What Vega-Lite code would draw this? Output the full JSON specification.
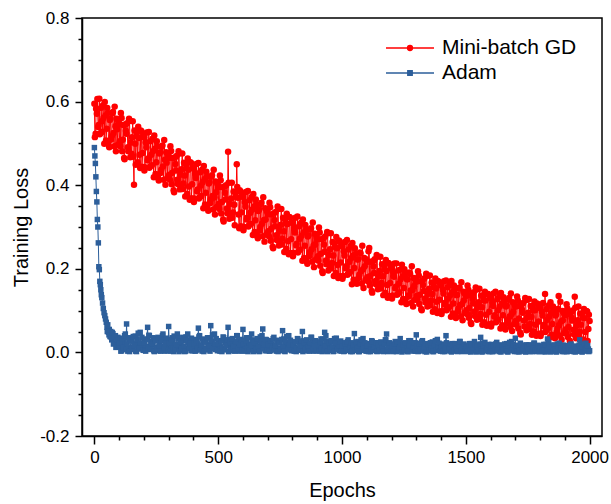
{
  "$schema": "https://vega.github.io/schema/vega-lite/v6.json",
  "autosize": "none",
  "padding": {"left": 82, "top": 18, "right": 9, "bottom": 68},
  "width": 520,
  "height": 418,
  "background": "white",
  "config": {
    "font": "Liberation Sans",
    "view": {"stroke": "black", "strokeWidth": 1.5},
    "axis": {"grid": false, "domainColor": "black", "domainWidth": 1.5, "tickColor": "black", "tickWidth": 1.5, "labelColor": "black", "titleColor": "black", "labelFont": "Liberation Sans", "titleFont": "Liberation Sans", "titleFontWeight": "normal", "labelFontSize": 17, "titleFontSize": 20}
  },
  "datasets": {
    "gd": [
      {"x":0,"y":0.595},{"x":5,"y":0.523},{"x":10,"y":0.571},{"x":15,"y":0.539},{"x":20,"y":0.607},{"x":25,"y":0.525},{"x":30,"y":0.553},{"x":35,"y":0.591},{"x":40,"y":0.499},{"x":45,"y":0.567},
      {"x":50,"y":0.535},{"x":55,"y":0.573},{"x":60,"y":0.491},{"x":65,"y":0.559},{"x":70,"y":0.517},{"x":75,"y":0.575},{"x":80,"y":0.493},{"x":85,"y":0.541},{"x":90,"y":0.559},{"x":95,"y":0.497},
      {"x":100,"y":0.545},{"x":105,"y":0.493},{"x":110,"y":0.561},{"x":115,"y":0.509},{"x":120,"y":0.465},{"x":125,"y":0.545},{"x":130,"y":0.523},{"x":135,"y":0.491},{"x":140,"y":0.559},{"x":145,"y":0.467},
      {"x":150,"y":0.475},{"x":155,"y":0.553},{"x":160,"y":0.401},{"x":165,"y":0.499},{"x":170,"y":0.527},{"x":175,"y":0.455},{"x":180,"y":0.513},{"x":185,"y":0.441},{"x":190,"y":0.529},{"x":195,"y":0.477},
      {"x":200,"y":0.515},{"x":205,"y":0.443},{"x":210,"y":0.491},{"x":215,"y":0.459},{"x":220,"y":0.527},{"x":225,"y":0.445},{"x":230,"y":0.473},{"x":235,"y":0.511},{"x":240,"y":0.419},{"x":245,"y":0.487},
      {"x":250,"y":0.455},{"x":255,"y":0.493},{"x":260,"y":0.411},{"x":265,"y":0.479},{"x":270,"y":0.437},{"x":275,"y":0.495},{"x":280,"y":0.413},{"x":285,"y":0.461},{"x":290,"y":0.479},{"x":295,"y":0.417},
      {"x":300,"y":0.465},{"x":305,"y":0.413},{"x":310,"y":0.482},{"x":315,"y":0.430},{"x":320,"y":0.388},{"x":325,"y":0.466},{"x":330,"y":0.435},{"x":335,"y":0.413},{"x":340,"y":0.481},{"x":345,"y":0.390},
      {"x":350,"y":0.398},{"x":355,"y":0.476},{"x":360,"y":0.404},{"x":365,"y":0.423},{"x":370,"y":0.451},{"x":375,"y":0.379},{"x":380,"y":0.437},{"x":385,"y":0.365},{"x":390,"y":0.454},{"x":395,"y":0.402},
      {"x":400,"y":0.440},{"x":405,"y":0.368},{"x":410,"y":0.417},{"x":415,"y":0.385},{"x":420,"y":0.453},{"x":425,"y":0.371},{"x":430,"y":0.399},{"x":435,"y":0.437},{"x":440,"y":0.345},{"x":445,"y":0.414},
      {"x":450,"y":0.382},{"x":455,"y":0.420},{"x":460,"y":0.339},{"x":465,"y":0.407},{"x":470,"y":0.366},{"x":475,"y":0.424},{"x":480,"y":0.342},{"x":485,"y":0.371},{"x":490,"y":0.409},{"x":495,"y":0.348},
      {"x":500,"y":0.395},{"x":505,"y":0.343},{"x":510,"y":0.412},{"x":515,"y":0.360},{"x":520,"y":0.318},{"x":525,"y":0.397},{"x":530,"y":0.366},{"x":535,"y":0.344},{"x":540,"y":0.480},{"x":545,"y":0.320},
      {"x":550,"y":0.328},{"x":555,"y":0.406},{"x":560,"y":0.335},{"x":565,"y":0.353},{"x":570,"y":0.383},{"x":575,"y":0.450},{"x":580,"y":0.370},{"x":585,"y":0.297},{"x":590,"y":0.385},{"x":595,"y":0.335},
      {"x":600,"y":0.372},{"x":605,"y":0.300},{"x":610,"y":0.349},{"x":615,"y":0.318},{"x":620,"y":0.386},{"x":625,"y":0.305},{"x":630,"y":0.334},{"x":635,"y":0.372},{"x":640,"y":0.281},{"x":645,"y":0.349},
      {"x":650,"y":0.316},{"x":655,"y":0.354},{"x":660,"y":0.273},{"x":665,"y":0.341},{"x":670,"y":0.300},{"x":675,"y":0.358},{"x":680,"y":0.278},{"x":685,"y":0.317},{"x":690,"y":0.345},{"x":695,"y":0.282},
      {"x":700,"y":0.330},{"x":705,"y":0.278},{"x":710,"y":0.347},{"x":715,"y":0.296},{"x":720,"y":0.253},{"x":725,"y":0.333},{"x":730,"y":0.302},{"x":735,"y":0.280},{"x":740,"y":0.349},{"x":745,"y":0.256},
      {"x":750,"y":0.265},{"x":755,"y":0.343},{"x":760,"y":0.272},{"x":765,"y":0.290},{"x":770,"y":0.319},{"x":775,"y":0.248},{"x":780,"y":0.307},{"x":785,"y":0.235},{"x":790,"y":0.323},{"x":795,"y":0.271},
      {"x":800,"y":0.310},{"x":805,"y":0.238},{"x":810,"y":0.287},{"x":815,"y":0.256},{"x":820,"y":0.325},{"x":825,"y":0.243},{"x":830,"y":0.272},{"x":835,"y":0.310},{"x":840,"y":0.219},{"x":845,"y":0.287},
      {"x":850,"y":0.255},{"x":855,"y":0.293},{"x":860,"y":0.212},{"x":865,"y":0.280},{"x":870,"y":0.239},{"x":875,"y":0.297},{"x":880,"y":0.217},{"x":885,"y":0.256},{"x":890,"y":0.284},{"x":895,"y":0.222},
      {"x":900,"y":0.270},{"x":905,"y":0.219},{"x":910,"y":0.287},{"x":915,"y":0.236},{"x":920,"y":0.194},{"x":925,"y":0.273},{"x":930,"y":0.241},{"x":935,"y":0.220},{"x":940,"y":0.288},{"x":945,"y":0.196},
      {"x":950,"y":0.207},{"x":955,"y":0.285},{"x":960,"y":0.214},{"x":965,"y":0.232},{"x":970,"y":0.261},{"x":975,"y":0.190},{"x":980,"y":0.249},{"x":985,"y":0.178},{"x":990,"y":0.266},{"x":995,"y":0.215},
      {"x":1000,"y":0.254},{"x":1005,"y":0.183},{"x":1010,"y":0.232},{"x":1015,"y":0.201},{"x":1020,"y":0.269},{"x":1025,"y":0.188},{"x":1030,"y":0.217},{"x":1035,"y":0.255},{"x":1040,"y":0.163},{"x":1045,"y":0.232},
      {"x":1050,"y":0.202},{"x":1055,"y":0.236},{"x":1060,"y":0.164},{"x":1065,"y":0.223},{"x":1070,"y":0.186},{"x":1075,"y":0.237},{"x":1080,"y":0.165},{"x":1085,"y":0.199},{"x":1090,"y":0.226},{"x":1095,"y":0.173},
      {"x":1100,"y":0.216},{"x":1105,"y":0.170},{"x":1110,"y":0.250},{"x":1115,"y":0.183},{"x":1120,"y":0.147},{"x":1125,"y":0.218},{"x":1130,"y":0.190},{"x":1135,"y":0.171},{"x":1140,"y":0.233},{"x":1145,"y":0.151},
      {"x":1150,"y":0.159},{"x":1155,"y":0.229},{"x":1160,"y":0.166},{"x":1165,"y":0.182},{"x":1170,"y":0.208},{"x":1175,"y":0.143},{"x":1180,"y":0.195},{"x":1185,"y":0.131},{"x":1190,"y":0.212},{"x":1195,"y":0.166},
      {"x":1200,"y":0.201},{"x":1205,"y":0.136},{"x":1210,"y":0.181},{"x":1215,"y":0.153},{"x":1220,"y":0.213},{"x":1225,"y":0.140},{"x":1230,"y":0.165},{"x":1235,"y":0.198},{"x":1240,"y":0.120},{"x":1245,"y":0.182},
      {"x":1250,"y":0.154},{"x":1255,"y":0.188},{"x":1260,"y":0.116},{"x":1265,"y":0.175},{"x":1270,"y":0.137},{"x":1275,"y":0.188},{"x":1280,"y":0.118},{"x":1285,"y":0.150},{"x":1290,"y":0.178},{"x":1295,"y":0.126},
      {"x":1300,"y":0.169},{"x":1305,"y":0.126},{"x":1310,"y":0.184},{"x":1315,"y":0.138},{"x":1320,"y":0.104},{"x":1325,"y":0.170},{"x":1330,"y":0.147},{"x":1335,"y":0.129},{"x":1340,"y":0.188},{"x":1345,"y":0.110},
      {"x":1350,"y":0.117},{"x":1355,"y":0.184},{"x":1360,"y":0.124},{"x":1365,"y":0.140},{"x":1370,"y":0.164},{"x":1375,"y":0.103},{"x":1380,"y":0.153},{"x":1385,"y":0.094},{"x":1390,"y":0.169},{"x":1395,"y":0.126},
      {"x":1400,"y":0.160},{"x":1405,"y":0.099},{"x":1410,"y":0.141},{"x":1415,"y":0.114},{"x":1420,"y":0.172},{"x":1425,"y":0.104},{"x":1430,"y":0.129},{"x":1435,"y":0.161},{"x":1440,"y":0.085},{"x":1445,"y":0.144},
      {"x":1450,"y":0.117},{"x":1455,"y":0.150},{"x":1460,"y":0.082},{"x":1465,"y":0.138},{"x":1470,"y":0.105},{"x":1475,"y":0.155},{"x":1480,"y":0.086},{"x":1485,"y":0.116},{"x":1490,"y":0.145},{"x":1495,"y":0.094},
      {"x":1500,"y":0.135},{"x":1505,"y":0.092},{"x":1510,"y":0.150},{"x":1515,"y":0.106},{"x":1520,"y":0.071},{"x":1525,"y":0.138},{"x":1530,"y":0.117},{"x":1535,"y":0.098},{"x":1540,"y":0.155},{"x":1545,"y":0.078},
      {"x":1550,"y":0.085},{"x":1555,"y":0.152},{"x":1560,"y":0.092},{"x":1565,"y":0.108},{"x":1570,"y":0.134},{"x":1575,"y":0.072},{"x":1580,"y":0.124},{"x":1585,"y":0.064},{"x":1590,"y":0.140},{"x":1595,"y":0.097},
      {"x":1600,"y":0.130},{"x":1605,"y":0.069},{"x":1610,"y":0.111},{"x":1615,"y":0.085},{"x":1620,"y":0.145},{"x":1625,"y":0.075},{"x":1630,"y":0.101},{"x":1635,"y":0.134},{"x":1640,"y":0.057},{"x":1645,"y":0.116},
      {"x":1650,"y":0.089},{"x":1655,"y":0.123},{"x":1660,"y":0.055},{"x":1665,"y":0.112},{"x":1670,"y":0.079},{"x":1675,"y":0.130},{"x":1680,"y":0.061},{"x":1685,"y":0.092},{"x":1690,"y":0.120},{"x":1695,"y":0.068},
      {"x":1700,"y":0.109},{"x":1705,"y":0.066},{"x":1710,"y":0.125},{"x":1715,"y":0.081},{"x":1720,"y":0.047},{"x":1725,"y":0.115},{"x":1730,"y":0.095},{"x":1735,"y":0.076},{"x":1740,"y":0.130},{"x":1745,"y":0.053},
      {"x":1750,"y":0.061},{"x":1755,"y":0.128},{"x":1760,"y":0.068},{"x":1765,"y":0.085},{"x":1770,"y":0.110},{"x":1775,"y":0.050},{"x":1780,"y":0.101},{"x":1785,"y":0.040},{"x":1790,"y":0.116},{"x":1795,"y":0.074},
      {"x":1800,"y":0.106},{"x":1805,"y":0.046},{"x":1810,"y":0.088},{"x":1815,"y":0.062},{"x":1820,"y":0.140},{"x":1825,"y":0.053},{"x":1830,"y":0.078},{"x":1835,"y":0.112},{"x":1840,"y":0.036},{"x":1845,"y":0.094},
      {"x":1850,"y":0.068},{"x":1855,"y":0.101},{"x":1860,"y":0.034},{"x":1865,"y":0.091},{"x":1870,"y":0.057},{"x":1875,"y":0.135},{"x":1880,"y":0.040},{"x":1885,"y":0.074},{"x":1890,"y":0.099},{"x":1895,"y":0.046},
      {"x":1900,"y":0.089},{"x":1905,"y":0.046},{"x":1910,"y":0.105},{"x":1915,"y":0.061},{"x":1920,"y":0.028},{"x":1925,"y":0.096},{"x":1930,"y":0.076},{"x":1935,"y":0.054},{"x":1940,"y":0.133},{"x":1945,"y":0.034},
      {"x":1950,"y":0.043},{"x":1955,"y":0.110},{"x":1960,"y":0.050},{"x":1965,"y":0.066},{"x":1970,"y":0.092},{"x":1975,"y":0.031},{"x":1980,"y":0.082},{"x":1985,"y":0.022},{"x":1990,"y":0.098},{"x":1995,"y":0.056},{"x":2000,"y":0.075},
      {"x":2,"y":0.515},{"x":7,"y":0.583},{"x":12,"y":0.606},{"x":17,"y":0.544},{"x":22,"y":0.522},{"x":27,"y":0.585},{"x":32,"y":0.528},{"x":37,"y":0.561},{"x":42,"y":0.599},{"x":47,"y":0.507},
      {"x":52,"y":0.585},{"x":57,"y":0.498},{"x":62,"y":0.556},{"x":67,"y":0.509},{"x":72,"y":0.572},{"x":77,"y":0.525},{"x":82,"y":0.588},{"x":87,"y":0.481},{"x":92,"y":0.534},{"x":97,"y":0.552},
      {"x":102,"y":0.505},{"x":107,"y":0.573},{"x":112,"y":0.481},{"x":117,"y":0.544},{"x":122,"y":0.462},{"x":127,"y":0.530},{"x":132,"y":0.548},{"x":137,"y":0.481},{"x":142,"y":0.554},{"x":147,"y":0.502},
      {"x":152,"y":0.515},{"x":157,"y":0.468},{"x":162,"y":0.531},{"x":167,"y":0.449},{"x":172,"y":0.517},{"x":177,"y":0.540},{"x":182,"y":0.473},{"x":187,"y":0.531},{"x":192,"y":0.444},{"x":197,"y":0.517},
      {"x":202,"y":0.435},{"x":207,"y":0.503},{"x":212,"y":0.526},{"x":217,"y":0.464},{"x":222,"y":0.442},{"x":227,"y":0.505},{"x":232,"y":0.448},{"x":237,"y":0.481},{"x":242,"y":0.519},{"x":247,"y":0.427},
      {"x":252,"y":0.505},{"x":257,"y":0.418},{"x":262,"y":0.476},{"x":267,"y":0.429},{"x":272,"y":0.492},{"x":277,"y":0.445},{"x":282,"y":0.508},{"x":287,"y":0.401},{"x":292,"y":0.454},{"x":297,"y":0.472},
      {"x":302,"y":0.425},{"x":307,"y":0.493},{"x":312,"y":0.402},{"x":317,"y":0.465},{"x":322,"y":0.383},{"x":327,"y":0.451},{"x":332,"y":0.470},{"x":337,"y":0.403},{"x":342,"y":0.476},{"x":347,"y":0.425},
      {"x":352,"y":0.438},{"x":357,"y":0.391},{"x":362,"y":0.454},{"x":367,"y":0.373},{"x":372,"y":0.441},{"x":377,"y":0.464},{"x":382,"y":0.397},{"x":387,"y":0.455},{"x":392,"y":0.369},{"x":397,"y":0.442},
      {"x":402,"y":0.360},{"x":407,"y":0.428},{"x":412,"y":0.451},{"x":417,"y":0.390},{"x":422,"y":0.368},{"x":427,"y":0.431},{"x":432,"y":0.374},{"x":437,"y":0.407},{"x":442,"y":0.446},{"x":447,"y":0.354},
      {"x":452,"y":0.432},{"x":457,"y":0.345},{"x":462,"y":0.404},{"x":467,"y":0.357},{"x":472,"y":0.420},{"x":477,"y":0.374},{"x":482,"y":0.437},{"x":487,"y":0.330},{"x":492,"y":0.383},{"x":497,"y":0.402},
      {"x":502,"y":0.355},{"x":507,"y":0.423},{"x":512,"y":0.332},{"x":517,"y":0.395},{"x":522,"y":0.313},{"x":527,"y":0.382},{"x":532,"y":0.400},{"x":537,"y":0.333},{"x":542,"y":0.406},{"x":547,"y":0.355},
      {"x":552,"y":0.368},{"x":557,"y":0.322},{"x":562,"y":0.385},{"x":567,"y":0.304},{"x":572,"y":0.372},{"x":577,"y":0.396},{"x":582,"y":0.330},{"x":587,"y":0.388},{"x":592,"y":0.302},{"x":597,"y":0.375},
      {"x":602,"y":0.292},{"x":607,"y":0.360},{"x":612,"y":0.384},{"x":617,"y":0.322},{"x":622,"y":0.301},{"x":627,"y":0.364},{"x":632,"y":0.307},{"x":637,"y":0.341},{"x":642,"y":0.379},{"x":647,"y":0.288},
      {"x":652,"y":0.366},{"x":657,"y":0.279},{"x":662,"y":0.338},{"x":667,"y":0.291},{"x":672,"y":0.355},{"x":677,"y":0.308},{"x":682,"y":0.371},{"x":687,"y":0.265},{"x":692,"y":0.318},{"x":697,"y":0.337},
      {"x":702,"y":0.290},{"x":707,"y":0.358},{"x":712,"y":0.267},{"x":717,"y":0.330},{"x":722,"y":0.249},{"x":727,"y":0.317},{"x":732,"y":0.336},{"x":737,"y":0.269},{"x":742,"y":0.343},{"x":747,"y":0.291},
      {"x":752,"y":0.305},{"x":757,"y":0.258},{"x":762,"y":0.322},{"x":767,"y":0.240},{"x":772,"y":0.309},{"x":777,"y":0.332},{"x":782,"y":0.266},{"x":787,"y":0.324},{"x":792,"y":0.238},{"x":797,"y":0.311},
      {"x":802,"y":0.230},{"x":807,"y":0.298},{"x":812,"y":0.322},{"x":817,"y":0.260},{"x":822,"y":0.239},{"x":827,"y":0.302},{"x":832,"y":0.246},{"x":837,"y":0.279},{"x":842,"y":0.318},{"x":847,"y":0.226},
      {"x":852,"y":0.305},{"x":857,"y":0.218},{"x":862,"y":0.277},{"x":867,"y":0.230},{"x":872,"y":0.294},{"x":877,"y":0.247},{"x":882,"y":0.311},{"x":887,"y":0.204},{"x":892,"y":0.258},{"x":897,"y":0.276},
      {"x":902,"y":0.230},{"x":907,"y":0.299},{"x":912,"y":0.207},{"x":917,"y":0.271},{"x":922,"y":0.190},{"x":927,"y":0.258},{"x":932,"y":0.277},{"x":937,"y":0.211},{"x":942,"y":0.285},{"x":947,"y":0.233},
      {"x":952,"y":0.247},{"x":957,"y":0.201},{"x":962,"y":0.264},{"x":967,"y":0.183},{"x":972,"y":0.252},{"x":977,"y":0.276},{"x":982,"y":0.209},{"x":987,"y":0.268},{"x":992,"y":0.182},{"x":997,"y":0.255},
      {"x":1002,"y":0.176},{"x":1007,"y":0.242},{"x":1012,"y":0.264},{"x":1017,"y":0.206},{"x":1022,"y":0.186},{"x":1027,"y":0.246},{"x":1032,"y":0.192},{"x":1037,"y":0.225},{"x":1042,"y":0.262},{"x":1047,"y":0.174},
      {"x":1052,"y":0.249},{"x":1057,"y":0.167},{"x":1062,"y":0.222},{"x":1067,"y":0.178},{"x":1072,"y":0.239},{"x":1077,"y":0.194},{"x":1082,"y":0.255},{"x":1087,"y":0.154},{"x":1092,"y":0.206},{"x":1097,"y":0.223},
      {"x":1102,"y":0.180},{"x":1107,"y":0.242},{"x":1112,"y":0.160},{"x":1117,"y":0.217},{"x":1122,"y":0.143},{"x":1127,"y":0.206},{"x":1132,"y":0.223},{"x":1137,"y":0.163},{"x":1142,"y":0.229},{"x":1147,"y":0.182},
      {"x":1152,"y":0.195},{"x":1157,"y":0.153},{"x":1162,"y":0.211},{"x":1167,"y":0.137},{"x":1172,"y":0.199},{"x":1177,"y":0.221},{"x":1182,"y":0.161},{"x":1187,"y":0.214},{"x":1192,"y":0.135},{"x":1197,"y":0.202},
      {"x":1202,"y":0.129},{"x":1207,"y":0.191},{"x":1212,"y":0.213},{"x":1217,"y":0.157},{"x":1222,"y":0.138},{"x":1227,"y":0.196},{"x":1232,"y":0.144},{"x":1237,"y":0.175},{"x":1242,"y":0.210},{"x":1247,"y":0.128},
      {"x":1252,"y":0.199},{"x":1257,"y":0.121},{"x":1262,"y":0.175},{"x":1267,"y":0.133},{"x":1272,"y":0.191},{"x":1277,"y":0.148},{"x":1282,"y":0.206},{"x":1287,"y":0.110},{"x":1292,"y":0.159},{"x":1297,"y":0.176},
      {"x":1302,"y":0.135},{"x":1307,"y":0.194},{"x":1312,"y":0.116},{"x":1317,"y":0.170},{"x":1322,"y":0.101},{"x":1327,"y":0.161},{"x":1332,"y":0.177},{"x":1337,"y":0.120},{"x":1342,"y":0.183},{"x":1347,"y":0.140},
      {"x":1352,"y":0.152},{"x":1357,"y":0.112},{"x":1362,"y":0.167},{"x":1367,"y":0.097},{"x":1372,"y":0.156},{"x":1377,"y":0.177},{"x":1382,"y":0.121},{"x":1387,"y":0.171},{"x":1392,"y":0.098},{"x":1397,"y":0.161},
      {"x":1402,"y":0.092},{"x":1407,"y":0.150},{"x":1412,"y":0.170},{"x":1417,"y":0.119},{"x":1422,"y":0.101},{"x":1427,"y":0.156},{"x":1432,"y":0.108},{"x":1437,"y":0.137},{"x":1442,"y":0.171},{"x":1447,"y":0.093},
      {"x":1452,"y":0.160},{"x":1457,"y":0.087},{"x":1462,"y":0.137},{"x":1467,"y":0.098},{"x":1472,"y":0.153},{"x":1477,"y":0.113},{"x":1482,"y":0.168},{"x":1487,"y":0.077},{"x":1492,"y":0.124},{"x":1497,"y":0.140},
      {"x":1502,"y":0.101},{"x":1507,"y":0.160},{"x":1512,"y":0.083},{"x":1517,"y":0.137},{"x":1522,"y":0.068},{"x":1527,"y":0.128},{"x":1532,"y":0.144},{"x":1537,"y":0.087},{"x":1542,"y":0.150},{"x":1547,"y":0.108},
      {"x":1552,"y":0.120},{"x":1557,"y":0.080},{"x":1562,"y":0.136},{"x":1567,"y":0.066},{"x":1572,"y":0.125},{"x":1577,"y":0.145},{"x":1582,"y":0.090},{"x":1587,"y":0.140},{"x":1592,"y":0.067},{"x":1597,"y":0.131},
      {"x":1602,"y":0.062},{"x":1607,"y":0.120},{"x":1612,"y":0.141},{"x":1617,"y":0.089},{"x":1622,"y":0.072},{"x":1627,"y":0.127},{"x":1632,"y":0.079},{"x":1637,"y":0.109},{"x":1642,"y":0.142},{"x":1647,"y":0.065},
      {"x":1652,"y":0.132},{"x":1657,"y":0.059},{"x":1662,"y":0.110},{"x":1667,"y":0.070},{"x":1672,"y":0.126},{"x":1677,"y":0.086},{"x":1682,"y":0.141},{"x":1687,"y":0.051},{"x":1692,"y":0.097},{"x":1697,"y":0.114},
      {"x":1702,"y":0.075},{"x":1707,"y":0.134},{"x":1712,"y":0.057},{"x":1717,"y":0.111},{"x":1722,"y":0.043},{"x":1727,"y":0.102},{"x":1732,"y":0.118},{"x":1737,"y":0.062},{"x":1742,"y":0.125},{"x":1747,"y":0.083},
      {"x":1752,"y":0.095},{"x":1757,"y":0.056},{"x":1762,"y":0.111},{"x":1767,"y":0.042},{"x":1772,"y":0.101},{"x":1777,"y":0.122},{"x":1782,"y":0.066},{"x":1787,"y":0.117},{"x":1792,"y":0.044},{"x":1797,"y":0.108},
      {"x":1802,"y":0.039},{"x":1807,"y":0.097},{"x":1812,"y":0.118},{"x":1817,"y":0.066},{"x":1822,"y":0.049},{"x":1827,"y":0.104},{"x":1832,"y":0.057},{"x":1837,"y":0.086},{"x":1842,"y":0.120},{"x":1847,"y":0.042},
      {"x":1852,"y":0.110},{"x":1857,"y":0.038},{"x":1862,"y":0.088},{"x":1867,"y":0.049},{"x":1872,"y":0.104},{"x":1877,"y":0.065},{"x":1882,"y":0.121},{"x":1887,"y":0.030},{"x":1892,"y":0.077},{"x":1897,"y":0.093},
      {"x":1902,"y":0.055},{"x":1907,"y":0.115},{"x":1912,"y":0.037},{"x":1917,"y":0.092},{"x":1922,"y":0.023},{"x":1927,"y":0.083},{"x":1932,"y":0.100},{"x":1937,"y":0.043},{"x":1942,"y":0.107},{"x":1947,"y":0.064},
      {"x":1952,"y":0.077},{"x":1957,"y":0.038},{"x":1962,"y":0.093},{"x":1967,"y":0.024},{"x":1972,"y":0.083},{"x":1977,"y":0.104},{"x":1982,"y":0.049},{"x":1987,"y":0.099},{"x":1992,"y":0.027},{"x":1997,"y":0.090}
    ],
    "adam": [
      {"x":0,"y":0.490},{"x":2,"y":0.470},{"x":4,"y":0.452},{"x":6,"y":0.420},{"x":8,"y":0.385},{"x":10,"y":0.360},{"x":12,"y":0.318},{"x":14,"y":0.300},{"x":16,"y":0.262},{"x":18,"y":0.205},
      {"x":20,"y":0.198},{"x":22,"y":0.170},{"x":24,"y":0.162},{"x":26,"y":0.150},{"x":28,"y":0.138},{"x":30,"y":0.131},{"x":33,"y":0.118},{"x":36,"y":0.105},{"x":39,"y":0.095},{"x":42,"y":0.088},
      {"x":45,"y":0.080},{"x":48,"y":0.072},{"x":51,"y":0.060},{"x":54,"y":0.066},{"x":57,"y":0.048},{"x":60,"y":0.055},{"x":63,"y":0.038},{"x":66,"y":0.050},{"x":70,"y":0.030},{"x":75,"y":0.045},
      {"x":80,"y":0.022},{"x":85,"y":0.040},{"x":90,"y":0.015},{"x":95,"y":0.036},
      {"x":52,"y":0.050},{"x":59,"y":0.042},{"x":68,"y":0.036},{"x":72,"y":0.048},{"x":77,"y":0.020},{"x":82,"y":0.038},{"x":87,"y":0.012},{"x":92,"y":0.030},{"x":97,"y":0.018},
      {"x":100,"y":0.013},{"x":105,"y":0.034},{"x":110,"y":0.004},{"x":115,"y":0.024},{"x":120,"y":0.009},{"x":125,"y":0.044},{"x":130,"y":0.068},{"x":135,"y":0.003},{"x":140,"y":0.030},{"x":145,"y":0.011},
      {"x":150,"y":0.028},{"x":155,"y":0.007},{"x":160,"y":0.020},{"x":165,"y":0.039},{"x":170,"y":0.002},{"x":175,"y":0.022},{"x":180,"y":0.012},{"x":185,"y":0.048},{"x":190,"y":0.008},{"x":195,"y":0.018},
      {"x":200,"y":0.006},{"x":205,"y":0.031},{"x":210,"y":0.014},{"x":215,"y":0.060},{"x":220,"y":0.041},{"x":225,"y":0.010},{"x":230,"y":0.026},{"x":235,"y":0.018},{"x":240,"y":0.004},{"x":245,"y":0.033},
      {"x":250,"y":0.012},{"x":255,"y":0.031},{"x":260,"y":0.004},{"x":265,"y":0.022},{"x":270,"y":0.008},{"x":275,"y":0.040},{"x":280,"y":0.015},{"x":285,"y":0.003},{"x":290,"y":0.027},{"x":295,"y":0.010},
      {"x":300,"y":0.062},{"x":305,"y":0.006},{"x":310,"y":0.018},{"x":315,"y":0.035},{"x":320,"y":0.002},{"x":325,"y":0.020},{"x":330,"y":0.011},{"x":335,"y":0.044},{"x":340,"y":0.007},{"x":345,"y":0.016},
      {"x":350,"y":0.005},{"x":355,"y":0.028},{"x":360,"y":0.013},{"x":365,"y":0.002},{"x":370,"y":0.037},{"x":375,"y":0.009},{"x":380,"y":0.024},{"x":385,"y":0.016},{"x":390,"y":0.004},{"x":395,"y":0.030},
      {"x":400,"y":0.012},{"x":405,"y":0.031},{"x":410,"y":0.004},{"x":415,"y":0.022},{"x":420,"y":0.058},{"x":425,"y":0.040},{"x":430,"y":0.015},{"x":435,"y":0.003},{"x":440,"y":0.027},{"x":445,"y":0.010},
      {"x":450,"y":0.025},{"x":455,"y":0.006},{"x":460,"y":0.018},{"x":465,"y":0.035},{"x":470,"y":0.064},{"x":475,"y":0.020},{"x":480,"y":0.011},{"x":485,"y":0.044},{"x":490,"y":0.007},{"x":495,"y":0.016},
      {"x":500,"y":0.005},{"x":505,"y":0.028},{"x":510,"y":0.013},{"x":515,"y":0.002},{"x":520,"y":0.037},{"x":525,"y":0.009},{"x":530,"y":0.024},{"x":535,"y":0.016},{"x":540,"y":0.060},{"x":545,"y":0.030},
      {"x":550,"y":0.012},{"x":555,"y":0.031},{"x":560,"y":0.004},{"x":565,"y":0.022},{"x":570,"y":0.008},{"x":575,"y":0.040},{"x":580,"y":0.015},{"x":585,"y":0.003},{"x":590,"y":0.027},{"x":595,"y":0.010},
      {"x":600,"y":0.055},{"x":605,"y":0.006},{"x":610,"y":0.018},{"x":615,"y":0.035},{"x":620,"y":0.002},{"x":625,"y":0.020},{"x":630,"y":0.011},{"x":635,"y":0.044},{"x":640,"y":0.007},{"x":645,"y":0.016},
      {"x":650,"y":0.005},{"x":655,"y":0.028},{"x":660,"y":0.013},{"x":665,"y":0.002},{"x":670,"y":0.037},{"x":675,"y":0.009},{"x":680,"y":0.056},{"x":685,"y":0.016},{"x":690,"y":0.004},{"x":695,"y":0.030},
      {"x":700,"y":0.011},{"x":705,"y":0.028},{"x":710,"y":0.004},{"x":715,"y":0.020},{"x":720,"y":0.007},{"x":725,"y":0.036},{"x":730,"y":0.014},{"x":735,"y":0.003},{"x":740,"y":0.024},{"x":745,"y":0.009},
      {"x":750,"y":0.023},{"x":755,"y":0.005},{"x":760,"y":0.052},{"x":765,"y":0.032},{"x":770,"y":0.002},{"x":775,"y":0.018},{"x":780,"y":0.010},{"x":785,"y":0.040},{"x":790,"y":0.006},{"x":795,"y":0.014},
      {"x":800,"y":0.005},{"x":805,"y":0.025},{"x":810,"y":0.012},{"x":815,"y":0.002},{"x":820,"y":0.033},{"x":825,"y":0.008},{"x":830,"y":0.022},{"x":835,"y":0.014},{"x":840,"y":0.050},{"x":845,"y":0.027},
      {"x":850,"y":0.011},{"x":855,"y":0.028},{"x":860,"y":0.004},{"x":865,"y":0.020},{"x":870,"y":0.007},{"x":875,"y":0.036},{"x":880,"y":0.014},{"x":885,"y":0.003},{"x":890,"y":0.024},{"x":895,"y":0.009},
      {"x":900,"y":0.023},{"x":905,"y":0.005},{"x":910,"y":0.016},{"x":915,"y":0.032},{"x":920,"y":0.002},{"x":925,"y":0.018},{"x":930,"y":0.048},{"x":935,"y":0.040},{"x":940,"y":0.006},{"x":945,"y":0.014},
      {"x":950,"y":0.005},{"x":955,"y":0.025},{"x":960,"y":0.012},{"x":965,"y":0.002},{"x":970,"y":0.033},{"x":975,"y":0.008},{"x":980,"y":0.022},{"x":985,"y":0.014},{"x":990,"y":0.004},{"x":995,"y":0.027},
      {"x":1000,"y":0.009},{"x":1005,"y":0.023},{"x":1010,"y":0.003},{"x":1015,"y":0.017},{"x":1020,"y":0.006},{"x":1025,"y":0.030},{"x":1030,"y":0.011},{"x":1035,"y":0.002},{"x":1040,"y":0.020},{"x":1045,"y":0.008},
      {"x":1050,"y":0.045},{"x":1055,"y":0.005},{"x":1060,"y":0.014},{"x":1065,"y":0.026},{"x":1070,"y":0.002},{"x":1075,"y":0.015},{"x":1080,"y":0.008},{"x":1085,"y":0.033},{"x":1090,"y":0.005},{"x":1095,"y":0.012},
      {"x":1100,"y":0.004},{"x":1105,"y":0.021},{"x":1110,"y":0.010},{"x":1115,"y":0.002},{"x":1120,"y":0.028},{"x":1125,"y":0.007},{"x":1130,"y":0.018},{"x":1135,"y":0.012},{"x":1140,"y":0.003},{"x":1145,"y":0.023},
      {"x":1150,"y":0.009},{"x":1155,"y":0.023},{"x":1160,"y":0.003},{"x":1165,"y":0.017},{"x":1170,"y":0.006},{"x":1175,"y":0.030},{"x":1180,"y":0.044},{"x":1185,"y":0.002},{"x":1190,"y":0.020},{"x":1195,"y":0.008},
      {"x":1200,"y":0.019},{"x":1205,"y":0.005},{"x":1210,"y":0.014},{"x":1215,"y":0.026},{"x":1220,"y":0.002},{"x":1225,"y":0.015},{"x":1230,"y":0.008},{"x":1235,"y":0.033},{"x":1240,"y":0.005},{"x":1245,"y":0.012},
      {"x":1250,"y":0.004},{"x":1255,"y":0.021},{"x":1260,"y":0.010},{"x":1265,"y":0.002},{"x":1270,"y":0.028},{"x":1275,"y":0.007},{"x":1280,"y":0.018},{"x":1285,"y":0.012},{"x":1290,"y":0.003},{"x":1295,"y":0.023},
      {"x":1300,"y":0.042},{"x":1305,"y":0.022},{"x":1310,"y":0.003},{"x":1315,"y":0.015},{"x":1320,"y":0.006},{"x":1325,"y":0.028},{"x":1330,"y":0.011},{"x":1335,"y":0.002},{"x":1340,"y":0.019},{"x":1345,"y":0.007},
      {"x":1350,"y":0.018},{"x":1355,"y":0.004},{"x":1360,"y":0.013},{"x":1365,"y":0.025},{"x":1370,"y":0.002},{"x":1375,"y":0.014},{"x":1380,"y":0.008},{"x":1385,"y":0.031},{"x":1390,"y":0.005},{"x":1395,"y":0.011},
      {"x":1400,"y":0.004},{"x":1405,"y":0.020},{"x":1410,"y":0.009},{"x":1415,"y":0.002},{"x":1420,"y":0.040},{"x":1425,"y":0.006},{"x":1430,"y":0.017},{"x":1435,"y":0.011},{"x":1440,"y":0.003},{"x":1445,"y":0.021},
      {"x":1450,"y":0.008},{"x":1455,"y":0.020},{"x":1460,"y":0.003},{"x":1465,"y":0.014},{"x":1470,"y":0.005},{"x":1475,"y":0.026},{"x":1480,"y":0.010},{"x":1485,"y":0.002},{"x":1490,"y":0.018},{"x":1495,"y":0.006},
      {"x":1500,"y":0.015},{"x":1505,"y":0.004},{"x":1510,"y":0.011},{"x":1515,"y":0.021},{"x":1520,"y":0.001},{"x":1525,"y":0.012},{"x":1530,"y":0.007},{"x":1535,"y":0.026},{"x":1540,"y":0.004},{"x":1545,"y":0.010},
      {"x":1550,"y":0.003},{"x":1555,"y":0.017},{"x":1560,"y":0.036},{"x":1565,"y":0.001},{"x":1570,"y":0.022},{"x":1575,"y":0.005},{"x":1580,"y":0.014},{"x":1585,"y":0.010},{"x":1590,"y":0.002},{"x":1595,"y":0.018},
      {"x":1600,"y":0.007},{"x":1605,"y":0.019},{"x":1610,"y":0.002},{"x":1615,"y":0.013},{"x":1620,"y":0.005},{"x":1625,"y":0.024},{"x":1630,"y":0.009},{"x":1635,"y":0.002},{"x":1640,"y":0.016},{"x":1645,"y":0.006},
      {"x":1650,"y":0.015},{"x":1655,"y":0.004},{"x":1660,"y":0.011},{"x":1665,"y":0.021},{"x":1670,"y":0.001},{"x":1675,"y":0.012},{"x":1680,"y":0.007},{"x":1685,"y":0.026},{"x":1690,"y":0.004},{"x":1695,"y":0.010},
      {"x":1700,"y":0.034},{"x":1705,"y":0.017},{"x":1710,"y":0.008},{"x":1715,"y":0.001},{"x":1720,"y":0.022},{"x":1725,"y":0.005},{"x":1730,"y":0.014},{"x":1735,"y":0.010},{"x":1740,"y":0.002},{"x":1745,"y":0.018},
      {"x":1750,"y":0.007},{"x":1755,"y":0.017},{"x":1760,"y":0.002},{"x":1765,"y":0.012},{"x":1770,"y":0.004},{"x":1775,"y":0.022},{"x":1780,"y":0.008},{"x":1785,"y":0.002},{"x":1790,"y":0.015},{"x":1795,"y":0.006},
      {"x":1800,"y":0.014},{"x":1805,"y":0.003},{"x":1810,"y":0.010},{"x":1815,"y":0.019},{"x":1820,"y":0.001},{"x":1825,"y":0.011},{"x":1830,"y":0.032},{"x":1835,"y":0.024},{"x":1840,"y":0.004},{"x":1845,"y":0.009},
      {"x":1850,"y":0.003},{"x":1855,"y":0.015},{"x":1860,"y":0.007},{"x":1865,"y":0.001},{"x":1870,"y":0.020},{"x":1875,"y":0.005},{"x":1880,"y":0.013},{"x":1885,"y":0.009},{"x":1890,"y":0.002},{"x":1895,"y":0.017},
      {"x":1900,"y":0.006},{"x":1905,"y":0.016},{"x":1910,"y":0.002},{"x":1915,"y":0.011},{"x":1920,"y":0.004},{"x":1925,"y":0.020},{"x":1930,"y":0.008},{"x":1935,"y":0.002},{"x":1940,"y":0.014},{"x":1945,"y":0.005},
      {"x":1950,"y":0.013},{"x":1955,"y":0.003},{"x":1960,"y":0.030},{"x":1965,"y":0.018},{"x":1970,"y":0.001},{"x":1975,"y":0.010},{"x":1980,"y":0.006},{"x":1985,"y":0.022},{"x":1990,"y":0.003},{"x":1995,"y":0.008},{"x":2000,"y":0.004},
      {"x":102,"y":0.023},{"x":107,"y":0.003},{"x":112,"y":0.032},{"x":117,"y":0.012},{"x":122,"y":0.040},{"x":127,"y":0.007},{"x":132,"y":0.020},{"x":137,"y":0.035},{"x":142,"y":0.002},{"x":147,"y":0.028},
      {"x":152,"y":0.009},{"x":157,"y":0.038},{"x":162,"y":0.016},{"x":167,"y":0.003},{"x":172,"y":0.030},{"x":177,"y":0.046},{"x":182,"y":0.010},{"x":187,"y":0.022},{"x":192,"y":0.036},{"x":197,"y":0.005},
      {"x":202,"y":0.023},{"x":207,"y":0.003},{"x":212,"y":0.032},{"x":217,"y":0.012},{"x":222,"y":0.040},{"x":227,"y":0.007},{"x":232,"y":0.020},{"x":237,"y":0.035},{"x":242,"y":0.002},{"x":247,"y":0.028},
      {"x":252,"y":0.009},{"x":257,"y":0.036},{"x":262,"y":0.015},{"x":267,"y":0.003},{"x":272,"y":0.029},{"x":277,"y":0.044},{"x":282,"y":0.010},{"x":287,"y":0.021},{"x":292,"y":0.034},{"x":297,"y":0.004},
      {"x":302,"y":0.022},{"x":307,"y":0.003},{"x":312,"y":0.031},{"x":317,"y":0.011},{"x":322,"y":0.039},{"x":327,"y":0.007},{"x":332,"y":0.019},{"x":337,"y":0.033},{"x":342,"y":0.002},{"x":347,"y":0.026},
      {"x":352,"y":0.009},{"x":357,"y":0.036},{"x":362,"y":0.015},{"x":367,"y":0.003},{"x":372,"y":0.029},{"x":377,"y":0.044},{"x":382,"y":0.010},{"x":387,"y":0.021},{"x":392,"y":0.034},{"x":397,"y":0.004},
      {"x":402,"y":0.021},{"x":407,"y":0.003},{"x":412,"y":0.029},{"x":417,"y":0.011},{"x":422,"y":0.037},{"x":427,"y":0.006},{"x":432,"y":0.018},{"x":437,"y":0.032},{"x":442,"y":0.002},{"x":447,"y":0.025},
      {"x":452,"y":0.008},{"x":457,"y":0.035},{"x":462,"y":0.015},{"x":467,"y":0.003},{"x":472,"y":0.027},{"x":477,"y":0.042},{"x":482,"y":0.009},{"x":487,"y":0.020},{"x":492,"y":0.033},{"x":497,"y":0.004},
      {"x":502,"y":0.020},{"x":507,"y":0.003},{"x":512,"y":0.028},{"x":517,"y":0.010},{"x":522,"y":0.035},{"x":527,"y":0.006},{"x":532,"y":0.017},{"x":537,"y":0.030},{"x":542,"y":0.002},{"x":547,"y":0.024},
      {"x":552,"y":0.008},{"x":557,"y":0.033},{"x":562,"y":0.014},{"x":567,"y":0.003},{"x":572,"y":0.026},{"x":577,"y":0.040},{"x":582,"y":0.009},{"x":587,"y":0.019},{"x":592,"y":0.031},{"x":597,"y":0.004},
      {"x":602,"y":0.020},{"x":607,"y":0.003},{"x":612,"y":0.028},{"x":617,"y":0.010},{"x":622,"y":0.035},{"x":627,"y":0.006},{"x":632,"y":0.017},{"x":637,"y":0.030},{"x":642,"y":0.002},{"x":647,"y":0.024},
      {"x":652,"y":0.008},{"x":657,"y":0.033},{"x":662,"y":0.014},{"x":667,"y":0.003},{"x":672,"y":0.026},{"x":677,"y":0.040},{"x":682,"y":0.009},{"x":687,"y":0.019},{"x":692,"y":0.031},{"x":697,"y":0.004},
      {"x":702,"y":0.019},{"x":707,"y":0.003},{"x":712,"y":0.027},{"x":717,"y":0.010},{"x":722,"y":0.033},{"x":727,"y":0.006},{"x":732,"y":0.016},{"x":737,"y":0.029},{"x":742,"y":0.002},{"x":747,"y":0.023},
      {"x":752,"y":0.008},{"x":757,"y":0.031},{"x":762,"y":0.013},{"x":767,"y":0.003},{"x":772,"y":0.025},{"x":777,"y":0.038},{"x":782,"y":0.009},{"x":787,"y":0.018},{"x":792,"y":0.029},{"x":797,"y":0.004},
      {"x":802,"y":0.018},{"x":807,"y":0.003},{"x":812,"y":0.025},{"x":817,"y":0.009},{"x":822,"y":0.032},{"x":827,"y":0.005},{"x":832,"y":0.015},{"x":837,"y":0.027},{"x":842,"y":0.002},{"x":847,"y":0.022},
      {"x":852,"y":0.007},{"x":857,"y":0.030},{"x":862,"y":0.013},{"x":867,"y":0.003},{"x":872,"y":0.023},{"x":877,"y":0.036},{"x":882,"y":0.008},{"x":887,"y":0.017},{"x":892,"y":0.028},{"x":897,"y":0.004},
      {"x":902,"y":0.018},{"x":907,"y":0.003},{"x":912,"y":0.025},{"x":917,"y":0.009},{"x":922,"y":0.032},{"x":927,"y":0.005},{"x":932,"y":0.015},{"x":937,"y":0.027},{"x":942,"y":0.002},{"x":947,"y":0.022},
      {"x":952,"y":0.007},{"x":957,"y":0.028},{"x":962,"y":0.012},{"x":967,"y":0.003},{"x":972,"y":0.022},{"x":977,"y":0.034},{"x":982,"y":0.008},{"x":987,"y":0.016},{"x":992,"y":0.026},{"x":997,"y":0.003},
      {"x":1002,"y":0.015},{"x":1007,"y":0.002},{"x":1012,"y":0.021},{"x":1017,"y":0.008},{"x":1022,"y":0.026},{"x":1027,"y":0.005},{"x":1032,"y":0.013},{"x":1037,"y":0.023},{"x":1042,"y":0.002},{"x":1047,"y":0.018},
      {"x":1052,"y":0.006},{"x":1057,"y":0.025},{"x":1062,"y":0.011},{"x":1067,"y":0.002},{"x":1072,"y":0.020},{"x":1077,"y":0.030},{"x":1082,"y":0.007},{"x":1087,"y":0.014},{"x":1092,"y":0.023},{"x":1097,"y":0.003},
      {"x":1102,"y":0.015},{"x":1107,"y":0.002},{"x":1112,"y":0.021},{"x":1117,"y":0.008},{"x":1122,"y":0.026},{"x":1127,"y":0.005},{"x":1132,"y":0.013},{"x":1137,"y":0.023},{"x":1142,"y":0.002},{"x":1147,"y":0.018},
      {"x":1152,"y":0.006},{"x":1157,"y":0.025},{"x":1162,"y":0.011},{"x":1167,"y":0.002},{"x":1172,"y":0.020},{"x":1177,"y":0.030},{"x":1182,"y":0.007},{"x":1187,"y":0.014},{"x":1192,"y":0.023},{"x":1197,"y":0.003},
      {"x":1202,"y":0.014},{"x":1207,"y":0.002},{"x":1212,"y":0.020},{"x":1217,"y":0.007},{"x":1222,"y":0.025},{"x":1227,"y":0.004},{"x":1232,"y":0.012},{"x":1237,"y":0.021},{"x":1242,"y":0.001},{"x":1247,"y":0.017},
      {"x":1252,"y":0.006},{"x":1257,"y":0.023},{"x":1262,"y":0.010},{"x":1267,"y":0.002},{"x":1272,"y":0.018},{"x":1277,"y":0.028},{"x":1282,"y":0.006},{"x":1287,"y":0.013},{"x":1292,"y":0.022},{"x":1297,"y":0.003},
      {"x":1302,"y":0.014},{"x":1307,"y":0.002},{"x":1312,"y":0.020},{"x":1317,"y":0.007},{"x":1322,"y":0.025},{"x":1327,"y":0.004},{"x":1332,"y":0.012},{"x":1337,"y":0.021},{"x":1342,"y":0.001},{"x":1347,"y":0.017},
      {"x":1352,"y":0.006},{"x":1357,"y":0.023},{"x":1362,"y":0.010},{"x":1367,"y":0.002},{"x":1372,"y":0.018},{"x":1377,"y":0.028},{"x":1382,"y":0.006},{"x":1387,"y":0.013},{"x":1392,"y":0.022},{"x":1397,"y":0.003},
      {"x":1402,"y":0.013},{"x":1407,"y":0.002},{"x":1412,"y":0.018},{"x":1417,"y":0.007},{"x":1422,"y":0.023},{"x":1427,"y":0.004},{"x":1432,"y":0.011},{"x":1437,"y":0.020},{"x":1442,"y":0.001},{"x":1447,"y":0.016},
      {"x":1452,"y":0.005},{"x":1457,"y":0.021},{"x":1462,"y":0.009},{"x":1467,"y":0.002},{"x":1472,"y":0.017},{"x":1477,"y":0.026},{"x":1482,"y":0.006},{"x":1487,"y":0.012},{"x":1492,"y":0.020},{"x":1497,"y":0.003},
      {"x":1502,"y":0.012},{"x":1507,"y":0.002},{"x":1512,"y":0.017},{"x":1517,"y":0.006},{"x":1522,"y":0.021},{"x":1527,"y":0.004},{"x":1532,"y":0.010},{"x":1537,"y":0.018},{"x":1542,"y":0.001},{"x":1547,"y":0.014},
      {"x":1552,"y":0.005},{"x":1557,"y":0.020},{"x":1562,"y":0.008},{"x":1567,"y":0.002},{"x":1572,"y":0.016},{"x":1577,"y":0.024},{"x":1582,"y":0.005},{"x":1587,"y":0.011},{"x":1592,"y":0.019},{"x":1597,"y":0.002},
      {"x":1602,"y":0.012},{"x":1607,"y":0.002},{"x":1612,"y":0.017},{"x":1617,"y":0.006},{"x":1622,"y":0.021},{"x":1627,"y":0.004},{"x":1632,"y":0.010},{"x":1637,"y":0.018},{"x":1642,"y":0.001},{"x":1647,"y":0.014},
      {"x":1652,"y":0.005},{"x":1657,"y":0.020},{"x":1662,"y":0.008},{"x":1667,"y":0.002},{"x":1672,"y":0.016},{"x":1677,"y":0.024},{"x":1682,"y":0.005},{"x":1687,"y":0.011},{"x":1692,"y":0.019},{"x":1697,"y":0.002},
      {"x":1702,"y":0.011},{"x":1707,"y":0.002},{"x":1712,"y":0.015},{"x":1717,"y":0.006},{"x":1722,"y":0.019},{"x":1727,"y":0.003},{"x":1732,"y":0.009},{"x":1737,"y":0.017},{"x":1742,"y":0.001},{"x":1747,"y":0.013},
      {"x":1752,"y":0.004},{"x":1757,"y":0.018},{"x":1762,"y":0.008},{"x":1767,"y":0.002},{"x":1772,"y":0.014},{"x":1777,"y":0.022},{"x":1782,"y":0.005},{"x":1787,"y":0.010},{"x":1792,"y":0.017},{"x":1797,"y":0.002},
      {"x":1802,"y":0.011},{"x":1807,"y":0.002},{"x":1812,"y":0.015},{"x":1817,"y":0.006},{"x":1822,"y":0.019},{"x":1827,"y":0.003},{"x":1832,"y":0.009},{"x":1837,"y":0.017},{"x":1842,"y":0.001},{"x":1847,"y":0.013},
      {"x":1852,"y":0.004},{"x":1857,"y":0.018},{"x":1862,"y":0.008},{"x":1867,"y":0.002},{"x":1872,"y":0.014},{"x":1877,"y":0.022},{"x":1882,"y":0.005},{"x":1887,"y":0.010},{"x":1892,"y":0.017},{"x":1897,"y":0.002},
      {"x":1902,"y":0.010},{"x":1907,"y":0.002},{"x":1912,"y":0.014},{"x":1917,"y":0.005},{"x":1922,"y":0.018},{"x":1927,"y":0.003},{"x":1932,"y":0.009},{"x":1937,"y":0.015},{"x":1942,"y":0.001},{"x":1947,"y":0.012},
      {"x":1952,"y":0.004},{"x":1957,"y":0.017},{"x":1962,"y":0.007},{"x":1967,"y":0.002},{"x":1972,"y":0.013},{"x":1977,"y":0.020},{"x":1982,"y":0.005},{"x":1987,"y":0.010},{"x":1992,"y":0.016},{"x":1997,"y":0.002}
    ]
  },
  "encoding": {
    "x": {
      "field": "x", "type": "quantitative",
      "scale": {"domain": [-50, 2050], "nice": false, "zero": false},
      "axis": {
        "title": "Epochs", "format": "d",
        "values": [0,100,200,300,400,500,600,700,800,900,1000,1100,1200,1300,1400,1500,1600,1700,1800,1900,2000],
        "labelExpr": "datum.value % 500 === 0 ? datum.label : ''",
        "tickSize": {"condition": {"test": "datum.value % 500 === 0", "value": 8}, "value": 4},
        "labelPadding": 5, "titlePadding": 15, "labelFlush": false, "labelOverlap": false
      }
    },
    "y": {
      "field": "y", "type": "quantitative",
      "scale": {"domain": [-0.2, 0.8], "nice": false, "zero": false},
      "axis": {
        "title": "Training Loss", "format": ".1f",
        "values": [-0.2,-0.15,-0.1,-0.05,0,0.05,0.1,0.15,0.2,0.25,0.3,0.35,0.4,0.45,0.5,0.55,0.6,0.65,0.7,0.75,0.8],
        "labelExpr": "round(datum.value*100) % 20 === 0 ? replace(datum.label, '\u2212', '-') : ''",
        "tickSize": {"condition": {"test": "round(datum.value*100) % 20 === 0", "value": 7}, "value": 4},
        "labelPadding": 6, "titlePadding": 8, "labelFlush": false, "labelOverlap": false
      }
    }
  },
  "layer": [
    {
      "data": {"name": "gd"},
      "mark": {"type": "line", "strokeWidth": 1},
      "encoding": {
        "color": {
          "datum": "Mini-batch GD", "type": "nominal",
          "scale": {"domain": ["Mini-batch GD", "Adam"], "range": ["#ff0000", "#2d5f9b"]},
          "legend": {
            "orient": "none", "legendX": 315, "legendY": 17, "title": null, "padding": 0,
            "symbolType": "M-2,0H2M0.2,0A0.2,0.2,0,1,1,-0.2,0A0.2,0.2,0,1,1,0.2,0Z",
            "symbolSize": 576, "symbolStrokeWidth": 1.5,
            "labelFont": "Liberation Sans", "labelFontSize": 21, "labelColor": "black", "labelOffset": 19, "rowPadding": 2,
            "encode": {"symbols": {"update": {
              "fill": {"scale": "color", "field": "value"},
              "shape": {"signal": "datum.value === 'Adam' ? 'M-2,0H2M-0.18,-0.18H0.18V0.18H-0.18Z' : 'M-2,0H2M0.2,0A0.2,0.2,0,1,1,-0.2,0A0.2,0.2,0,1,1,0.2,0Z'"}
            }}}
          }
        }
      }
    },
    {
      "data": {"name": "gd"},
      "mark": {"type": "point", "shape": "circle", "filled": true, "size": 42, "opacity": 1, "color": "#ff0000"}
    },
    {
      "data": {"name": "adam"},
      "mark": {"type": "line", "strokeWidth": 1},
      "encoding": {
        "color": {
          "datum": "Adam", "type": "nominal",
          "scale": {"domain": ["Mini-batch GD", "Adam"], "range": ["#ff0000", "#2d5f9b"]}
        }
      }
    },
    {
      "data": {"name": "adam"},
      "mark": {"type": "point", "shape": "square", "filled": true, "size": 30, "opacity": 1, "color": "#2d5f9b"}
    }
  ]
}
